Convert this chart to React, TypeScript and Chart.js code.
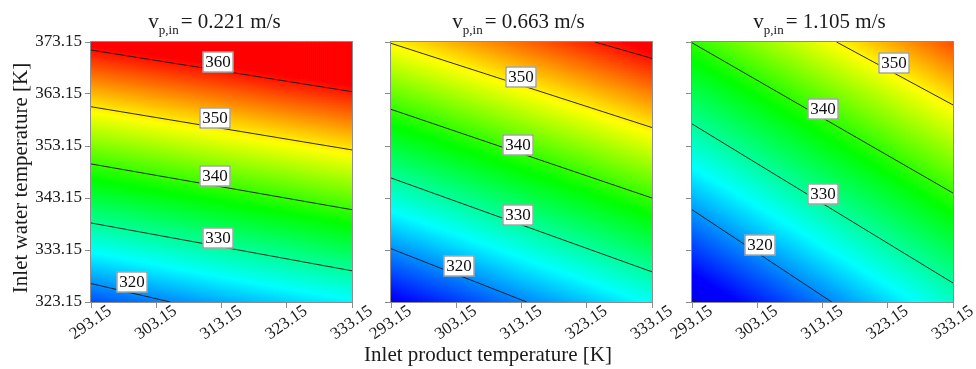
import React, { useEffect, useRef } from "react";
import { Chart, registerables } from "chart.js";

Chart.register(...registerables);

// ---------- data ----------
const xTicks = [293.15, 303.15, 313.15, 323.15, 333.15];
const yTicks = [323.15, 333.15, 343.15, 353.15, 363.15, 373.15];
const velocities = ["0.221", "0.663", "1.105"];

// outlet temperature [K] at (xTicks[col], yTicks[row])
const outletGrid1 = [
  [316.8, 319.2, 321.3, 323.2, 325.0],
  [325.8, 327.8, 329.8, 331.7, 333.7],
  [334.7, 336.6, 338.5, 340.4, 342.3],
  [343.6, 345.4, 347.3, 349.1, 350.9],
  [352.5, 354.3, 356.0, 357.8, 359.5],
  [361.5, 363.2, 364.8, 366.5, 368.1],
];
const outletGrid2 = [
  [312.3, 315.7, 319.3, 322.4, 325.8],
  [319.8, 323.1, 326.5, 329.8, 333.1],
  [327.4, 330.6, 333.9, 337.1, 340.4],
  [334.9, 338.1, 341.3, 344.5, 347.7],
  [342.5, 345.6, 348.8, 351.9, 355.0],
  [350.0, 353.1, 356.2, 359.2, 362.3],
];
const outletGrid3 = [
  [309.7, 314.3, 318.9, 323.5, 328.1],
  [315.8, 320.3, 324.9, 329.4, 333.9],
  [321.8, 326.3, 330.8, 335.2, 339.7],
  [327.9, 332.3, 336.7, 341.0, 345.4],
  [333.9, 338.2, 342.6, 346.9, 351.2],
  [340.0, 344.4, 348.8, 353.1, 357.5],
];

// contour lines: [[x, y], [x, y]]
const contours1 = [
  [[293.15, 326.7], [305.3, 323.15]],
  [[293.15, 338.35], [333.15, 329.15]],
  [[293.15, 349.7], [333.15, 340.9]],
  [[293.15, 360.7], [333.15, 352.4]],
  [[293.15, 371.6], [333.15, 363.6]],
];
const contours2 = [
  [[293.15, 333.4], [313.95, 323.15]],
  [[293.15, 347.0], [333.15, 328.95]],
  [[293.15, 360.2], [333.15, 343.15]],
  [[293.15, 372.9], [333.15, 356.7]],
  [[324.4, 373.15], [333.15, 370.0]],
];
const contours3 = [
  [[293.15, 323.8], [293.95, 323.15]],
  [[293.15, 340.9], [314.56, 323.15]],
  [[293.15, 357.4], [333.15, 326.8]],
  [[293.15, 373.0], [333.15, 344.1]],
  [[315.3, 373.15], [333.15, 361.05]],
];

// contour labels: [level, x, y]
const labels1 = [
  [360, 312.65, 369.25],
  [350, 312.1, 358.5],
  [340, 312.1, 347.3],
  [330, 312.65, 335.45],
  [320, 299.4, 327.0],
];
const labels2 = [
  [350, 313.05, 366.5],
  [340, 312.65, 353.35],
  [330, 312.65, 339.95],
  [320, 303.55, 330.05],
];
const labels3 = [
  [350, 324.15, 369.05],
  [340, 313.15, 360.3],
  [330, 313.15, 343.95],
  [320, 303.55, 334.15],
];

// colour map stops
const colorStops = [306, 313, 325.5, 338, 349.5, 361];
const colorRGB = [
  [0, 0, 215],
  [0, 0, 255],
  [0, 255, 255],
  [0, 255, 0],
  [255, 255, 0],
  [255, 0, 0],
];

const yAxisTitle = "Inlet water temperature [K]";
const xAxisTitle = "Inlet product temperature [K]";

// ---------- layout ----------
const W = 976;
const H = 369;
const PANEL_LEFT = [91, 391, 692];
const PANEL_RIGHT = [352, 652, 953];
const PANEL_TOP = 42;
const PANEL_BOTTOM = 302;
const Y_AXIS_W = 60;
const X_AXIS_H = 40;
const TITLE_SHIFT = [-7, -3, -3];
const SERIF = "'Liberation Serif', 'Times New Roman', Times, serif";
const TEXT = "#1a1a1a";

const grids = [outletGrid1, outletGrid2, outletGrid3];
const contours = [contours1, contours2, contours3];
const labelSets = [labels1, labels2, labels3];

function valueAt(grid: number[][], x: number, y: number) {
  let i = 0;
  while (i < xTicks.length - 2 && x > xTicks[i + 1]) i++;
  let j = 0;
  while (j < yTicks.length - 2 && y > yTicks[j + 1]) j++;
  const tx = (x - xTicks[i]) / (xTicks[i + 1] - xTicks[i]);
  const ty = (y - yTicks[j]) / (yTicks[j + 1] - yTicks[j]);
  const v00 = grid[j][i];
  const v10 = grid[j][i + 1];
  const v01 = grid[j + 1][i];
  const v11 = grid[j + 1][i + 1];
  return v00 * (1 - tx) * (1 - ty) + v10 * tx * (1 - ty) + v01 * (1 - tx) * ty + v11 * tx * ty;
}

function colorFor(v: number) {
  if (v <= colorStops[0]) return `rgb(${colorRGB[0].join(",")})`;
  const n = colorStops.length;
  if (v >= colorStops[n - 1]) return `rgb(${colorRGB[n - 1].join(",")})`;
  let k = 0;
  while (v > colorStops[k + 1]) k++;
  const t = (v - colorStops[k]) / (colorStops[k + 1] - colorStops[k]);
  const a = colorRGB[k];
  const b = colorRGB[k + 1];
  const c = a.map((av, idx) => Math.round(av + (b[idx] - av) * t));
  return `rgb(${c.join(",")})`;
}

function makeHeatmapPlugin(p: number) {
  return {
    id: "heatmap" + p,
    beforeDatasetsDraw(chart: any) {
      const { ctx } = chart;
      const xs = chart.scales.x;
      const ys = chart.scales.y;
      const grid = grids[p];
      const NX = 131;
      const NY = 130;
      const x0 = xTicks[0];
      const x1 = xTicks[xTicks.length - 1];
      const y0 = yTicks[0];
      const y1 = yTicks[yTicks.length - 1];
      const dx = (x1 - x0) / NX;
      const dy = (y1 - y0) / NY;
      ctx.save();
      for (let i = 0; i < NX; i++) {
        const xa = x0 + i * dx;
        const pxa = xs.getPixelForValue(xa);
        const pxb = xs.getPixelForValue(xa + dx);
        for (let j = 0; j < NY; j++) {
          const ya = y0 + j * dy;
          const pya = ys.getPixelForValue(ya);
          const pyb = ys.getPixelForValue(ya + dy);
          ctx.fillStyle = colorFor(valueAt(grid, xa + dx / 2, ya + dy / 2));
          ctx.fillRect(pxa, pyb, pxb - pxa + 0.7, pya - pyb + 0.7);
        }
      }
      ctx.restore();
    },
  };
}

function drawPanelTitle(ctx: CanvasRenderingContext2D, cx: number, baseline: number, speed: string) {
  const main = 21;
  const sub = 13;
  const rest = `= ${speed} m/s`;
  ctx.font = `${main}px ${SERIF}`;
  const vW = ctx.measureText("v").width;
  const restW = ctx.measureText(rest).width;
  ctx.font = `${sub}px ${SERIF}`;
  const subW = ctx.measureText("p,in").width + 2;
  let x = cx - (vW + subW + restW) / 2;
  ctx.fillStyle = TEXT;
  ctx.textAlign = "left";
  ctx.textBaseline = "alphabetic";
  ctx.font = `${main}px ${SERIF}`;
  ctx.fillText("v", x, baseline);
  x += vW;
  ctx.font = `${sub}px ${SERIF}`;
  ctx.fillText("p,in", x, baseline + 6);
  x += subW;
  ctx.font = `${main}px ${SERIF}`;
  ctx.fillText(rest, x, baseline);
}

function makeOverlayPlugin(p: number) {
  return {
    id: "overlay" + p,
    afterDatasetsDraw(chart: any) {
      const { ctx, chartArea } = chart;
      const xs = chart.scales.x;
      const ys = chart.scales.y;
      ctx.save();
      // frame
      ctx.strokeStyle = "#8c8c8c";
      ctx.lineWidth = 1;
      ctx.strokeRect(
        Math.round(chartArea.left) - 0.5,
        Math.round(chartArea.top) - 0.5,
        Math.round(chartArea.right - chartArea.left) + 1,
        Math.round(chartArea.bottom - chartArea.top) + 1
      );
      // contour labels
      ctx.font = `17px ${SERIF}`;
      ctx.textAlign = "center";
      ctx.textBaseline = "middle";
      for (const [lvl, lx, ly] of labelSets[p]) {
        const cx = Math.round(xs.getPixelForValue(lx));
        const cy = Math.round(ys.getPixelForValue(ly));
        const bw = 31;
        const bh = 21;
        ctx.fillStyle = "#ffffff";
        ctx.fillRect(cx - bw / 2, cy - bh / 2, bw, bh);
        ctx.strokeStyle = "#7a7a7a";
        ctx.strokeRect(cx - bw / 2 + 0.5, cy - bh / 2 + 0.5, bw - 1, bh - 1);
        ctx.fillStyle = "#111";
        ctx.fillText(String(lvl), cx, cy + 1);
      }
      ctx.restore();
    },
    afterDraw(chart: any) {
      const { ctx, chartArea } = chart;
      ctx.save();
      const cx = (chartArea.left + chartArea.right) / 2 + TITLE_SHIFT[p];
      drawPanelTitle(ctx, cx, 28, velocities[p]);
      ctx.fillStyle = TEXT;
      ctx.font = `21px ${SERIF}`;
      if (p === 0) {
        ctx.save();
        ctx.translate(21, 178);
        ctx.rotate(-Math.PI / 2);
        ctx.textAlign = "center";
        ctx.textBaseline = "middle";
        ctx.fillText(yAxisTitle, 0, 0);
        ctx.restore();
      }
      if (p === 1) {
        ctx.textAlign = "center";
        ctx.textBaseline = "alphabetic";
        ctx.fillText(xAxisTitle, W / 2, 361);
      }
      ctx.restore();
    },
  };
}

function makeConfig(p: number): any {
  return {
    type: "scatter",
    data: {
      datasets: contours[p].map((seg) => ({
        data: seg.map(([x, y]) => ({ x, y })),
        showLine: true,
        borderColor: "#161616",
        borderWidth: 0.9,
        pointRadius: 0,
        pointHoverRadius: 0,
        fill: false,
        tension: 0,
      })),
    },
    options: {
      responsive: false,
      animation: false,
      events: [],
      layout: {
        autoPadding: false,
        padding: {
          left: PANEL_LEFT[p] - Y_AXIS_W,
          right: W - PANEL_RIGHT[p],
          top: PANEL_TOP,
          bottom: H - PANEL_BOTTOM - X_AXIS_H,
        },
      },
      plugins: {
        legend: { display: false },
        tooltip: { enabled: false },
        title: { display: false },
      },
      scales: {
        x: {
          type: "linear",
          min: xTicks[0],
          max: xTicks[xTicks.length - 1],
          afterBuildTicks: (s: any) => {
            s.ticks = xTicks.map((v) => ({ value: v }));
          },
          afterFit: (s: any) => {
            s.height = X_AXIS_H;
            s.paddingLeft = 0;
            s.paddingRight = 0;
          },
          ticks: {
            autoSkip: false,
            minRotation: 35,
            maxRotation: 35,
            labelOffset: 19,
            padding: -7,
            font: { family: SERIF, size: 17 },
            color: TEXT,
            callback: (v: any) => Number(v).toFixed(2),
          },
          grid: { drawOnChartArea: false, drawTicks: true, tickLength: 6, color: "#8c8c8c" },
          border: { display: false },
        },
        y: {
          type: "linear",
          min: yTicks[0],
          max: yTicks[yTicks.length - 1],
          afterBuildTicks: (s: any) => {
            s.ticks = yTicks.map((v) => ({ value: v }));
          },
          afterFit: (s: any) => {
            s.width = Y_AXIS_W;
            s.paddingTop = 0;
            s.paddingBottom = 0;
          },
          ticks: {
            display: p === 0,
            autoSkip: false,
            padding: 3,
            font: { family: SERIF, size: 17 },
            color: TEXT,
            callback: (v: any) => Number(v).toFixed(2),
          },
          grid: { drawOnChartArea: false, drawTicks: true, tickLength: 6, color: "#8c8c8c" },
          border: { display: false },
        },
      },
    },
    plugins: [makeHeatmapPlugin(p), makeOverlayPlugin(p)],
  };
}

function Panel({ index }: { index: number }) {
  const ref = useRef<HTMLCanvasElement | null>(null);
  useEffect(() => {
    if (!ref.current) return;
    const chart = new Chart(ref.current, makeConfig(index));
    return () => chart.destroy();
  }, [index]);
  return (
    <canvas
      ref={ref}
      width={W}
      height={H}
      style={{ position: "absolute", left: 0, top: 0, width: W, height: H }}
    />
  );
}

export default function App() {
  return (
    <div
      style={{
        position: "absolute",
        left: 0,
        top: 0,
        width: W,
        height: H,
        background: "#ffffff",
        overflow: "hidden",
      }}
    >
      <Panel index={0} />
      <Panel index={1} />
      <Panel index={2} />
    </div>
  );
}
